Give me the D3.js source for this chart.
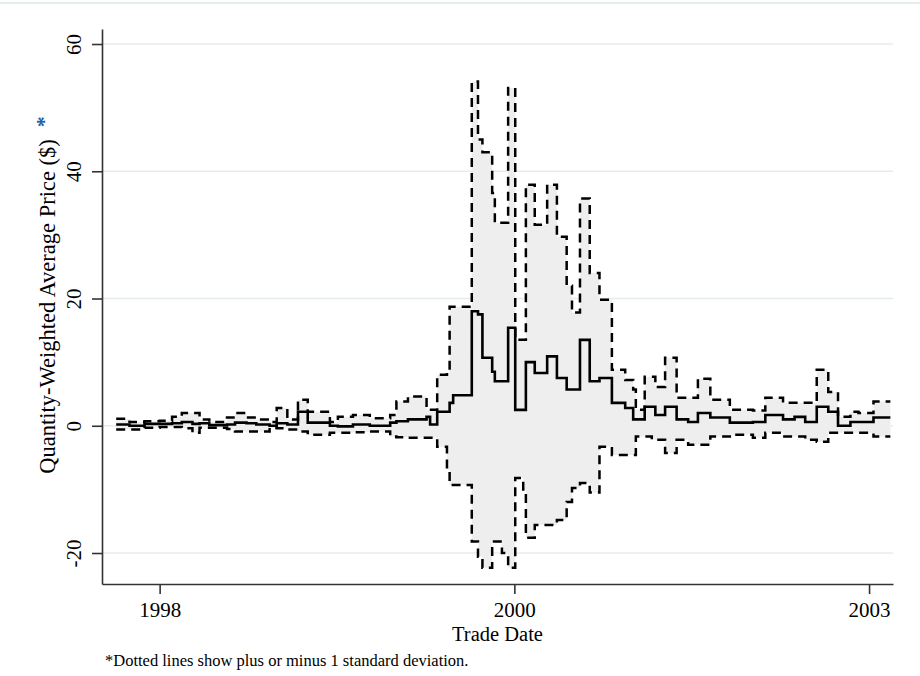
<!DOCTYPE html>
<html lang="en">
<head>
  <meta charset="UTF-8">
  <title>Quantity-Weighted Average Price</title>
  <style>
    body { margin:0; background:#fff; overflow:hidden; }
    #chart { display:block; font-family:"Liberation Serif","Times New Roman",serif; }
  </style>
</head>
<body>
  <svg id="chart" width="920" height="676"></svg>
  <script src="https://d3js.org/d3.v7.min.js"></script>
  <script>
    // trade periods (start of each step); ticks 10 / 50 / 90 carry the year labels
    const period = [5.1, 6.6, 8.3, 10.0, 11.4, 12.5, 13.7, 14.5, 15.6, 17.6,
      18.5, 19.8, 20.9, 22.4, 23.2, 24.4, 25.6, 26.7, 29.2, 30.1,
      31.8, 33.7, 36.0, 36.7, 38.0, 40.1, 40.5, 41.3, 42.4, 42.7,
      43.1, 45.2, 45.9, 46.4, 47.5, 47.8, 48.6, 49.3, 50.1, 51.0,
      51.3, 52.3, 53.7, 54.8, 55.9, 56.5, 57.4, 58.5, 59.6, 61.0,
      62.5, 63.4, 63.7, 64.7, 65.5, 65.9, 67.0, 68.3, 69.6, 70.7,
      72.1, 74.3, 76.9, 78.3, 80.3, 81.6, 82.8, 84.1, 85.4, 86.5,
      87.9, 88.8, 90.5, 92.4];
    const meanPrice = [0.2, 0.0, 0.3, 0.3, 0.4, 0.6, 0.3, 0.4, 0.1, 0.2,
      0.5, 0.4, 0.2, 0.0, 0.4, 0.2, 2.2, 0.5, 0.0, -0.1,
      0.2, 0.0, 0.5, 0.7, 1.0, 1.4, 0.2, 2.2, 2.2, 3.6,
      4.8, 18.0, 17.5, 10.7, 8.5, 7.0, 7.0, 15.4, 2.5, 2.5,
      10.0, 8.3, 10.9, 7.5, 5.7, 5.7, 13.5, 7.0, 7.5, 3.6,
      2.8, 1.0, 1.0, 3.0, 3.0, 1.7, 3.0, 1.0, 0.6, 2.0,
      1.3, 0.5, 0.6, 1.7, 1.0, 1.4, 0.6, 3.0, 2.2, 0.0,
      0.6, 0.6, 1.3, 1.3];
    const upperSD = [1.1, 0.6, 0.7, 0.8, 1.4, 2.0, 2.0, 1.0, 0.6, 1.3,
      2.0, 1.3, 1.0, 0.6, 2.8, 1.0, 4.1, 2.2, 0.6, 1.4,
      1.7, 1.2, 1.7, 3.8, 4.6, 2.5, 2.5, 8.0, 8.3, 18.7,
      18.7, 54.1, 45.0, 43.0, 36.6, 31.9, 31.9, 53.1, 13.5, 13.5,
      37.9, 31.6, 37.9, 29.7, 22.0, 17.8, 35.7, 24.0, 19.8, 8.8,
      7.2, 5.7, 2.5, 7.7, 7.7, 6.1, 10.7, 4.4, 4.4, 7.4,
      4.1, 2.5, 2.4, 4.4, 3.6, 3.6, 3.6, 8.8, 5.3, 1.4,
      2.2, 2.0, 3.8, 3.8];
    const lowerSD = [-0.6, -0.6, -0.3, -0.2, -0.2, -0.4, -1.1, -0.3, -0.3, -0.5,
      -0.9, -0.9, -0.9, -0.3, -0.4, -0.6, -0.9, -1.4, -1.1, -1.1,
      -1.0, -0.9, -1.7, -1.8, -1.9, -1.9, -1.9, -3.3, -6.9, -9.3,
      -9.3, -18.2, -20.6, -22.3, -18.2, -18.2, -20.0, -22.3, -8.2, -10.0,
      -17.6, -15.6, -15.6, -14.8, -12.0, -9.8, -9.0, -10.5, -3.3, -4.6,
      -4.6, -4.6, -1.7, -1.7, -2.2, -2.2, -4.3, -2.2, -3.0, -3.0,
      -1.7, -1.4, -1.9, -1.1, -1.7, -1.7, -2.2, -2.5, -1.1, -1.1,
      -1.1, -1.1, -1.7, -1.7];
    const xTickValues = [10, 50, 90];
    const xTickLabels = ['1998', '2000', '2003'];
    const yTickValues = [-20, 0, 20, 40, 60];

    const rows = period.map((p, i) => ({p, m: meanPrice[i], hi: upperSD[i], lo: lowerSD[i]}));

    const svg = d3.select('#chart');
    const plotL = 102, plotR = 893, plotT = 29, plotB = 584;
    const x = d3.scaleLinear().domain([3.5, 92.7]).range([plotL, plotR]);
    const y = d3.scaleLinear().domain([-24.87, 62.36]).range([plotB, plotT]);

    // faint frame line along the top
    svg.append('line').attr('x1', 0).attr('x2', 920).attr('y1', 3).attr('y2', 3)
      .attr('stroke', '#e6edf1').attr('stroke-width', 2);

    // grid
    svg.append('g').selectAll('line').data(yTickValues).join('line')
      .attr('x1', plotL).attr('x2', plotR)
      .attr('y1', d => y(d)).attr('y2', d => y(d))
      .attr('stroke', '#e4ecf0').attr('stroke-width', 1.6);

    // +/- 1 sd band
    svg.append('path').datum(rows)
      .attr('d', d3.area().curve(d3.curveStepAfter).x(d => x(d.p)).y0(d => y(d.lo)).y1(d => y(d.hi)))
      .attr('fill', '#eeeeee');

    const step = key => d3.line().curve(d3.curveStepAfter).x(d => x(d.p)).y(d => y(d[key]));
    ['hi', 'lo'].forEach(k => {
      svg.append('path').datum(rows).attr('d', step(k))
        .attr('fill', 'none').attr('stroke', '#000').attr('stroke-width', 2.5)
        .attr('stroke-dasharray', '9,6');
    });
    svg.append('path').datum(rows).attr('d', step('m'))
      .attr('fill', 'none').attr('stroke', '#000').attr('stroke-width', 2.6);

    // axes
    const yAxis = svg.append('g').attr('transform', `translate(${plotL},0)`)
      .call(d3.axisLeft(y).tickValues(yTickValues).tickSize(10).tickSizeOuter(0)
        .tickFormat(d => String(d)));
    yAxis.selectAll('text')
      .attr('transform', 'rotate(-90)').attr('x', 0).attr('y', -21).attr('dy', 0)
      .style('text-anchor', 'middle');

    const xAxis = svg.append('g').attr('transform', `translate(0,${plotB})`)
      .call(d3.axisBottom(x).tickValues(xTickValues).tickSize(10).tickSizeOuter(0)
        .tickFormat((d, i) => xTickLabels[i]));
    xAxis.selectAll('text').attr('y', 18);

    svg.selectAll('.domain, .tick line').attr('stroke', '#333').attr('stroke-width', 1.6);
    svg.selectAll('.tick text').attr('fill', '#000')
      .style('font-size', '21px').style('font-family', '"Liberation Serif","Times New Roman",serif');

    // titles
    svg.append('text').attr('x', (plotL + plotR) / 2).attr('y', 641)
      .attr('text-anchor', 'middle').style('font-size', '20.5px').text('Trade Date');

    const ymid = (plotT + plotB) / 2;
    const yTitle = svg.append('text')
      .attr('transform', `translate(55,${ymid}) rotate(-90)`)
      .attr('text-anchor', 'middle').style('font-size', '22.5px')
      .text('Quantity-Weighted Average Price ($)');
    const len = yTitle.node().getComputedTextLength();
    svg.append('text')
      .attr('transform', `translate(51,${ymid - len / 2 - 12}) rotate(-90)`)
      .attr('text-anchor', 'start').attr('fill', '#23609f').style('font-size', '22px')
      .style('font-weight', 'bold')
      .text('*');

    svg.append('text').attr('x', 105).attr('y', 666).style('font-size', '16.5px')
      .text('*Dotted lines show plus or minus 1 standard deviation.');
  </script>
</body>
</html>
